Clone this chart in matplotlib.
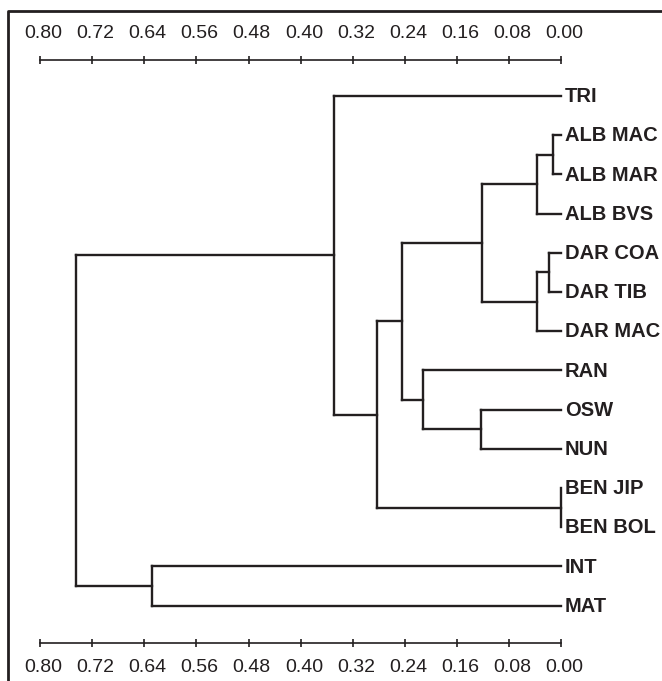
import matplotlib
matplotlib.use("Agg")
import matplotlib.pyplot as plt

plt.rcParams['font.family'] = ['Liberation Sans', 'DejaVu Sans']

# leaves, top to bottom
leaves = ["TRI", "ALB MAC", "ALB MAR", "ALB BVS", "DAR COA", "DAR TIB",
          "DAR MAC", "RAN", "OSW", "NUN", "BEN JIP", "BEN BOL", "INT", "MAT"]

# merges: (child a, child b, distance); new cluster ids start at len(leaves)
merge_a = [1, 14, 4, 16, 15, 8, 7, 18, 10, 21, 0, 12, 24]
merge_b = [2, 3, 5, 6, 17, 9, 19, 20, 11, 22, 23, 13, 25]
merge_h = [0.013, 0.037, 0.018, 0.037, 0.121, 0.123, 0.212, 0.244,
           0.0, 0.282, 0.349, 0.629, 0.745]

# scale bar
scale_ticks = [0.80, 0.72, 0.64, 0.56, 0.48, 0.40, 0.32, 0.24, 0.16, 0.08, 0.00]

fig = plt.figure(figsize=(6.62, 6.81), dpi=100)
ax = fig.add_axes([0, 0, 1, 1])
ax.set_xlim(561 / 651, -101 / 651)
ax.set_ylim((681 - 96) / 39.2, -96 / 39.2)
ax.axis("off")

col = "#231f20"
lw = 1.7

# node positions
ypos = {i: float(i) for i in range(len(leaves))}
hpos = {i: 0.0 for i in range(len(leaves))}
for k, (a, b, h) in enumerate(zip(merge_a, merge_b, merge_h)):
    nid = len(leaves) + k
    for c in (a, b):
        ax.plot([hpos[c], h], [ypos[c], ypos[c]], color=col, lw=lw,
                solid_capstyle="projecting")
    ax.plot([h, h], [ypos[a], ypos[b]], color=col, lw=lw,
            solid_capstyle="projecting")
    ypos[nid] = (ypos[a] + ypos[b]) / 2
    hpos[nid] = h

for i, name in enumerate(leaves):
    ax.text(-0.006, i + 0.02, name, ha="left", va="center", fontsize=14.5,
            fontweight="bold", color=col)

# scale bars top and bottom
for yl, yt in [((60 - 96) / 39.2, (33 - 96) / 39.2),
               ((643 - 96) / 39.2, (668 - 96) / 39.2)]:
    ax.plot([scale_ticks[0], scale_ticks[-1]], [yl, yl], color=col, lw=1.2)
    ax.plot(scale_ticks, [yl] * len(scale_ticks), ls="none", marker="|",
            ms=6, mew=1.2, color=col)
    for t in scale_ticks:
        ax.text(t - 0.005, yt, f"{t:.2f}", ha="center", va="center",
                fontsize=14, color=col)

# frame (left and top edges visible)
ax.plot([8 / 662, 8 / 662, 1], [0, 1 - 11 / 681, 1 - 11 / 681],
        transform=ax.transAxes, color=col, lw=2, clip_on=False)

fig.savefig("out.png", dpi=100)
